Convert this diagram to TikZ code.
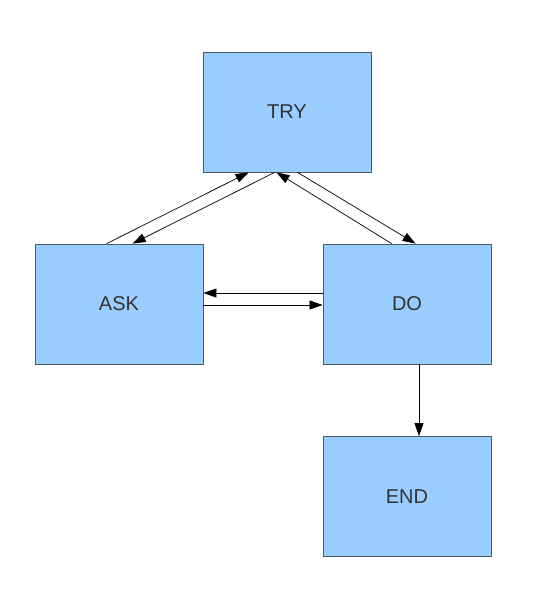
\documentclass[tikz,border=0pt]{standalone}
\usepackage{fontspec}
\setmainfont{Liberation Sans}
\usepackage{tikz}
\usetikzlibrary{arrows.meta,calc}
\definecolor{boxfill}{HTML}{99CCFF}
\definecolor{boxline}{HTML}{4A5868}
\definecolor{boxtext}{HTML}{333333}
\begin{document}
\begin{tikzpicture}[x=1pt,y=-1pt,
  state/.style={draw=boxline,fill=boxfill,line width=0.8pt,minimum width=168pt,minimum height=120pt,
    inner sep=0pt,font=\fontsize{20pt}{24pt}\selectfont,text=boxtext},
  flow/.style={line width=0.7pt,-{Triangle[length=13pt,width=9pt]}}]
\useasboundingbox (0,0) rectangle (546,606);
\node[state] (try) at (287,112) {TRY};
\node[state] (ask) at (119,304) {ASK};
\node[state] (do) at (407,304) {DO};
\node[state] (end) at (407,496.5) {END};

\draw[flow] ($(ask.north west)+(72,0)$) -- ($(try.south west)+(46,0)$);
\draw[flow] ($(try.south west)+(72,0)$) -- ($(ask.north west)+(98,0)$);
\draw[flow] ($(do.north west)+(69,0)$) -- ($(try.south west)+(74,0)$);
\draw[flow] ($(try.south west)+(95,0)$) -- ($(do.north west)+(93,0)$);
\draw[flow] ($(do.west)+(0,-11)$) -- ($(ask.east)+(0,-11)$);
\draw[flow] ($(ask.east)+(0,1)$) -- ($(do.west)+(0,1)$);
\draw[flow] ($(do.south)+(12,0)$) -- ($(end.north)+(12,0)$);
\end{tikzpicture}
\end{document}
